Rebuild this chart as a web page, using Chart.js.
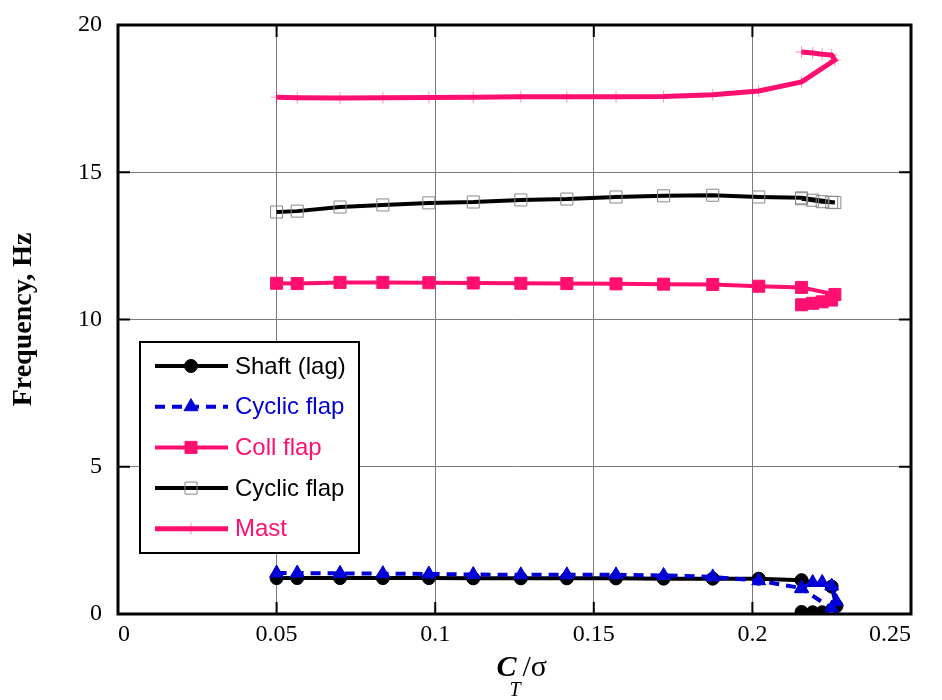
<!DOCTYPE html>
<html>
  <head>
    <title>Frequency vs CT/sigma</title>
    <script src="https://cdn.jsdelivr.net/npm/chart.js"></script>
    <style>
      body { margin: 0; background: #fff; }
    </style>
  </head>
  <body>
    <div style="width: 942px; height: 700px">
      <canvas id="myChart" width="942" height="700"></canvas>
    </div>
    <script>
      // values
      const shaftX = [0.05, 0.0565, 0.07, 0.0835, 0.098, 0.112, 0.127, 0.1415, 0.157, 0.172, 0.1875, 0.202, 0.2155, 0.225, 0.2265, 0.222, 0.219, 0.2155];
      const shaftY = [1.22, 1.22, 1.22, 1.22, 1.22, 1.21, 1.21, 1.21, 1.21, 1.2, 1.2, 1.2, 1.15, 0.93, 0.27, 0.06, 0.06, 0.07];

      const cycFlapX = [0.05, 0.0565, 0.07, 0.0835, 0.098, 0.112, 0.127, 0.1415, 0.157, 0.172, 0.1875, 0.202, 0.2155, 0.219, 0.222, 0.225, 0.2265, 0.225, 0.2155];
      const cycFlapY = [1.39, 1.39, 1.38, 1.37, 1.36, 1.34, 1.33, 1.33, 1.33, 1.31, 1.26, 1.13, 0.88, 1.07, 1.07, 0.95, 0.42, 0.2, 0.86];

      const collX = [0.05, 0.0565, 0.07, 0.0835, 0.098, 0.112, 0.127, 0.1415, 0.157, 0.172, 0.1875, 0.202, 0.2155, 0.226, 0.225, 0.222, 0.219, 0.2155];
      const collY = [11.23, 11.22, 11.26, 11.26, 11.25, 11.24, 11.23, 11.22, 11.21, 11.2, 11.19, 11.13, 11.09, 10.85, 10.66, 10.6, 10.55, 10.5];

      const cycFlap2X = [0.05, 0.0565, 0.07, 0.0835, 0.098, 0.112, 0.127, 0.1415, 0.157, 0.172, 0.1875, 0.202, 0.2155, 0.226, 0.225, 0.222, 0.219, 0.2155];
      const cycFlap2Y = [13.65, 13.68, 13.82, 13.89, 13.96, 13.99, 14.06, 14.09, 14.16, 14.2, 14.22, 14.16, 14.13, 13.97, 13.98, 14.0, 14.05, 14.1];

      const mastX = [0.05, 0.0565, 0.07, 0.0835, 0.098, 0.112, 0.127, 0.1415, 0.157, 0.172, 0.1875, 0.202, 0.2155, 0.226, 0.225, 0.222, 0.219, 0.2155];
      const mastY = [17.55, 17.53, 17.52, 17.53, 17.54, 17.55, 17.56, 17.56, 17.56, 17.57, 17.63, 17.76, 18.07, 18.81, 18.98, 19.01, 19.05, 19.08];

      const seriesNames = ["Shaft (lag)", "Cyclic flap", "Coll flap", "Cyclic flap", "Mast"];
      const xTickLabels = ["0", "0.05", "0.1", "0.15", "0.2", "0.25"];
      const yTickLabels = ["0", "5", "10", "15", "20"];

      const PINK = "rgb(255, 16, 112)";
      const BLUE = "rgb(0, 0, 215)";

      function pts(xs, ys) {
        return xs.map((x, i) => ({ x: x, y: ys[i] }));
      }

      const datasets = [
        {
          label: seriesNames[0],
          data: pts(shaftX, shaftY),
          borderColor: "#000",
          borderWidth: 4,
          pointStyle: "circle",
          pointRadius: 6.5,
          pointBackgroundColor: "#000",
          pointBorderColor: "#000",
          pointBorderWidth: 1,
          legendColor: "#000",
          order: 3,
        },
        {
          label: seriesNames[1],
          data: pts(cycFlapX, cycFlapY),
          borderColor: BLUE,
          borderWidth: 4,
          borderDash: [10, 7],
          pointStyle: "triangle",
          pointRadius: 8,
          pointBackgroundColor: BLUE,
          pointBorderColor: BLUE,
          pointBorderWidth: 1,
          legendColor: BLUE,
          order: 1,
        },
        {
          label: seriesNames[2],
          data: pts(collX, collY),
          borderColor: PINK,
          borderWidth: 4,
          pointStyle: "rect",
          pointRadius: 8.5,
          pointBackgroundColor: PINK,
          pointBorderColor: PINK,
          pointBorderWidth: 1,
          legendColor: PINK,
          order: 2,
        },
        {
          label: seriesNames[3],
          data: pts(cycFlap2X, cycFlap2Y),
          borderColor: "#000",
          borderWidth: 4,
          pointStyle: "rect",
          pointRadius: 8.5,
          pointBackgroundColor: "rgba(0,0,0,0)",
          pointBorderColor: "#888",
          pointBorderWidth: 1,
          legendColor: "#000",
          order: 2,
        },
        {
          label: seriesNames[4],
          data: pts(mastX, mastY),
          borderColor: PINK,
          borderWidth: 5,
          pointStyle: "cross",
          pointRadius: 6,
          pointBackgroundColor: "rgba(255,16,112,0.45)",
          pointBorderColor: "rgba(255,16,112,0.45)",
          pointBorderWidth: 1,
          legendColor: PINK,
          order: 2,
        },
      ];
      datasets.forEach((d) => {
        d.showLine = true;
        d.tension = 0;
        d.fill = false;
      });

      function markerPath(ctx, style, x, y, r) {
        ctx.beginPath();
        if (style === "circle") {
          ctx.arc(x, y, r, 0, Math.PI * 2);
        } else if (style === "triangle") {
          const s = r * 0.866;
          ctx.moveTo(x, y - r);
          ctx.lineTo(x + s, y + r / 2);
          ctx.lineTo(x - s, y + r / 2);
          ctx.closePath();
        } else if (style === "rect") {
          const h = r * Math.SQRT1_2;
          ctx.rect(x - h, y - h, 2 * h, 2 * h);
        } else if (style === "cross") {
          ctx.moveTo(x - r, y);
          ctx.lineTo(x + r, y);
          ctx.moveTo(x, y - r);
          ctx.lineTo(x, y + r);
        }
      }

      const framePlugin = {
        id: "frame",
        afterDraw(chart) {
          const ctx = chart.ctx;
          const a = chart.chartArea;
          const xs = chart.scales.x;
          const ys = chart.scales.y;
          ctx.save();

          // inward tick marks
          ctx.strokeStyle = "#000";
          ctx.lineWidth = 2;
          ctx.beginPath();
          xs.ticks.forEach((t) => {
            const px = xs.getPixelForValue(t.value);
            ctx.moveTo(px, a.bottom);
            ctx.lineTo(px, a.bottom - 12);
            ctx.moveTo(px, a.top);
            ctx.lineTo(px, a.top + 12);
          });
          ys.ticks.forEach((t) => {
            const py = ys.getPixelForValue(t.value);
            ctx.moveTo(a.left, py);
            ctx.lineTo(a.left + 12, py);
            ctx.moveTo(a.right, py);
            ctx.lineTo(a.right - 12, py);
          });
          ctx.stroke();

          // plot frame
          ctx.lineWidth = 3;
          ctx.strokeRect(a.left, a.top, a.right - a.left, a.bottom - a.top);

          // legend box
          const bx = a.left + 22, by = 342, bw = 219, bh = 211;
          ctx.fillStyle = "#fff";
          ctx.fillRect(bx, by, bw, bh);
          ctx.lineWidth = 2;
          ctx.strokeRect(bx, by, bw, bh);
          chart.data.datasets.forEach((d, i) => {
            const y = by + 24 + i * 40.7;
            ctx.setLineDash(d.borderDash || []);
            ctx.strokeStyle = d.borderColor;
            ctx.lineWidth = d.borderWidth;
            ctx.beginPath();
            ctx.moveTo(bx + 15, y);
            ctx.lineTo(bx + 88, y);
            ctx.stroke();
            ctx.setLineDash([]);
            markerPath(ctx, d.pointStyle, bx + 51, y, d.pointRadius);
            if (d.pointStyle !== "cross") {
              ctx.fillStyle = d.pointBackgroundColor;
              ctx.fill();
            }
            ctx.lineWidth = d.pointBorderWidth;
            ctx.strokeStyle = d.pointBorderColor;
            ctx.stroke();
            ctx.fillStyle = d.legendColor;
            ctx.font = '24px "Liberation Sans", Arial, sans-serif';
            ctx.textBaseline = "middle";
            ctx.textAlign = "left";
            ctx.fillText(d.label, bx + 95, y + 1);
          });

          // x axis title C_T/sigma
          const cx = (a.left + a.right) / 2;
          ctx.fillStyle = "#000";
          ctx.textBaseline = "alphabetic";
          ctx.textAlign = "left";
          ctx.font = 'italic bold 30px "Liberation Serif", serif';
          const cw = ctx.measureText("C").width;
          const x0 = cx - 18;
          ctx.fillText("C", x0, a.bottom + 62);
          ctx.font = 'italic 20px "Liberation Serif", serif';
          ctx.fillText("T", x0 + cw - 7, a.bottom + 82);
          ctx.font = '30px "Liberation Serif", serif';
          ctx.fillText("/\u03c3", x0 + cw + 6, a.bottom + 62);
          ctx.restore();
        },
      };

      const config = {
        type: "scatter",
        data: { datasets: datasets },
        options: {
          responsive: false,
          animation: false,
          layout: { padding: { top: 25, right: 31, left: 0, bottom: 0 } },
          plugins: {
            legend: { display: false },
            tooltip: { enabled: false },
          },
          scales: {
            x: {
              type: "linear",
              min: 0,
              max: 0.25,
              afterFit: (s) => { s.height = 86; },
              grid: { color: "#7a7a7a", lineWidth: 1, drawTicks: false },
              border: { display: false },
              ticks: {
                stepSize: 0.05,
                padding: 6,
                align: "inner",
                color: "#000",
                font: { family: '"Liberation Serif", serif', size: 24 },
                callback: (v, i) => xTickLabels[i],
              },
            },
            y: {
              type: "linear",
              min: 0,
              max: 20,
              afterFit: (s) => { s.width = 118; s.paddingTop = 0; s.paddingBottom = 0; },
              grid: { color: "#7a7a7a", lineWidth: 1, drawTicks: false },
              border: { display: false },
              ticks: {
                stepSize: 5,
                padding: 16,
                color: "#000",
                font: { family: '"Liberation Serif", serif', size: 24, lineHeight: 0.9 },
                callback: (v, i) => yTickLabels[i],
              },
              title: {
                display: true,
                text: "Frequency, Hz",
                color: "#000",
                padding: { top: 7, bottom: 0 },
                font: { family: '"Liberation Serif", serif', size: 28, weight: "bold" },
              },
            },
          },
        },
        plugins: [framePlugin],
      };

      var myChart = new Chart(document.getElementById("myChart"), config);
    </script>
  </body>
</html>
